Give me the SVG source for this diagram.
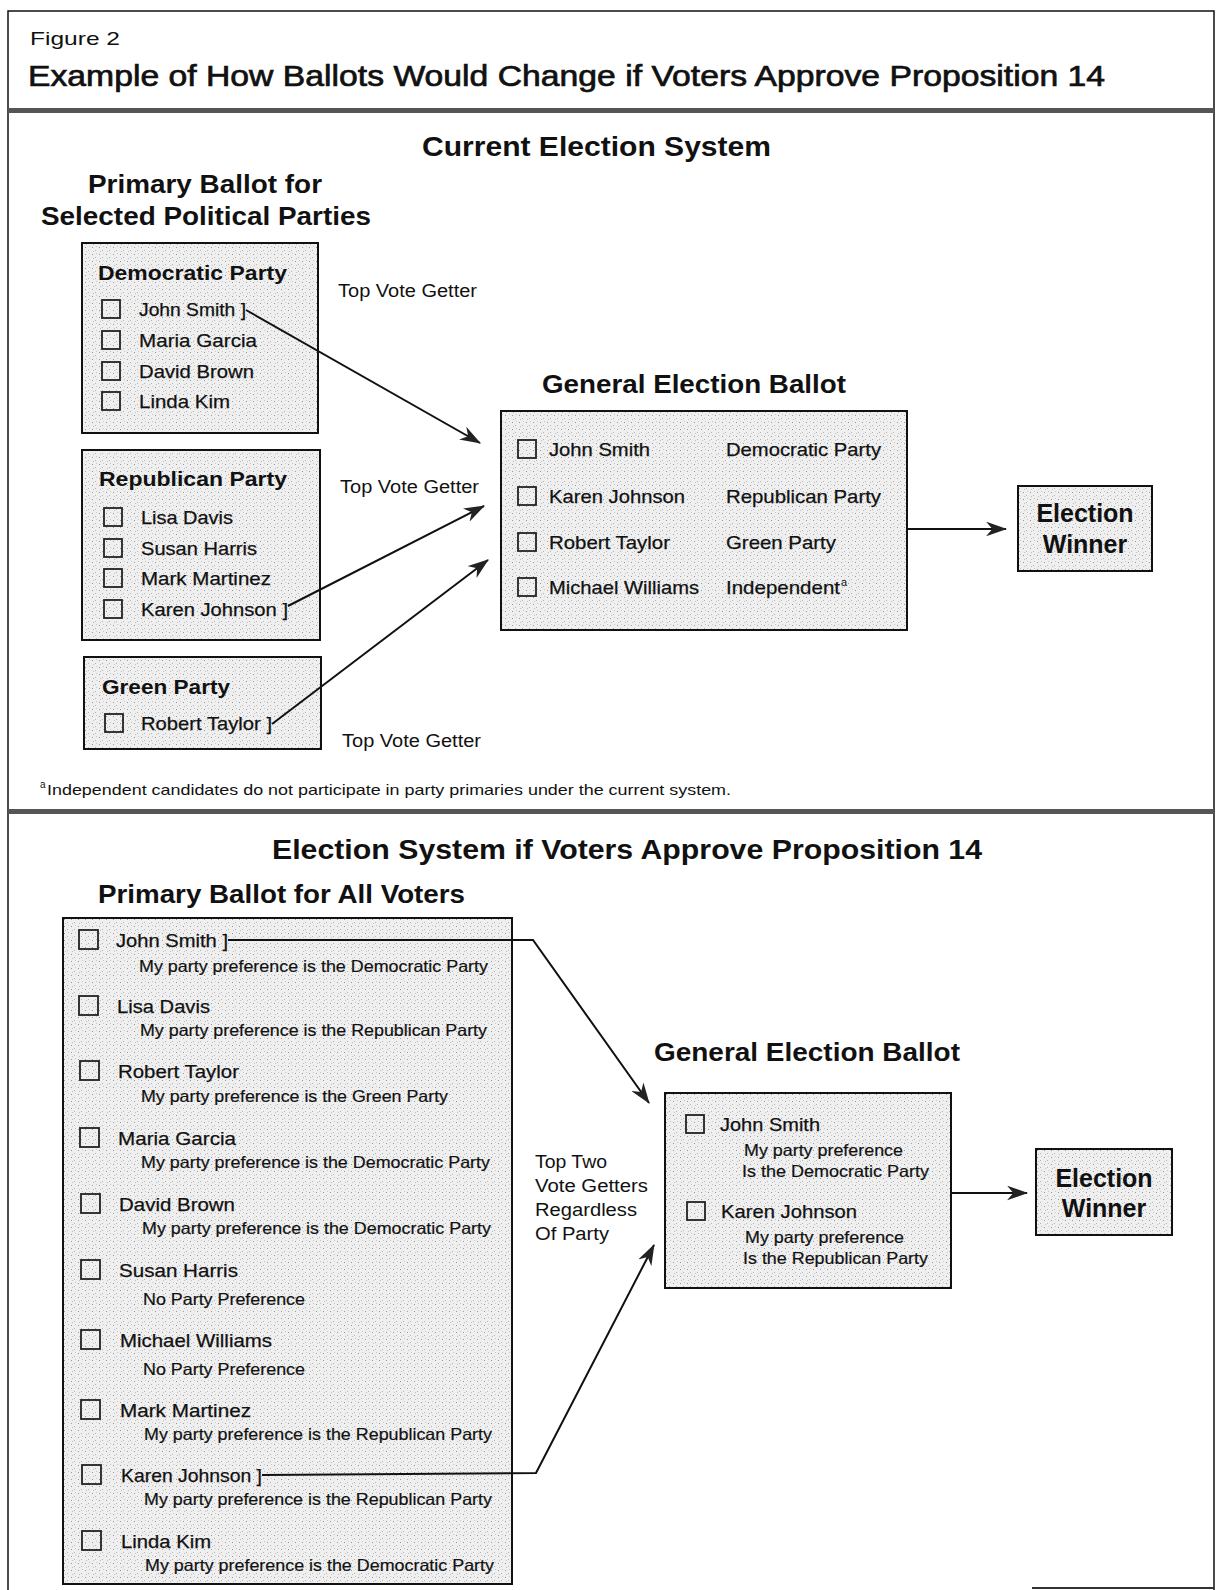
<svg xmlns="http://www.w3.org/2000/svg" width="1221" height="1590" viewBox="0 0 1221 1590">
<style>
text{font-family:"Liberation Sans",Arial,sans-serif;fill:#111}
.h{font-weight:bold;font-size:26px}
.h28{font-weight:bold;font-size:28px}
.pb{font-weight:bold;font-size:21px}
.nm{font-size:19px;stroke:#111;stroke-width:0.25}
.pf{font-size:16.5px;stroke:#111;stroke-width:0.2}
.lb{font-size:18px}
.ew{font-weight:bold;font-size:25px}
.box{fill:url(#stip);stroke:#111;stroke-width:2}
.cb{fill:none;stroke:#222;stroke-width:1.8}
.cn{fill:none;stroke:#111;stroke-width:2}
</style>
<defs>
<pattern id="stip" width="7" height="7" patternUnits="userSpaceOnUse">
<rect width="7" height="7" fill="#efefef"/>
<rect x="1" y="2" width="1" height="1" fill="#9a9a9a"/>
<rect x="4" y="5" width="1" height="1" fill="#b4b4b4"/>
<rect x="5" y="1" width="1" height="1" fill="#c8c8c8"/>
<rect x="2" y="6" width="1" height="1" fill="#c0c0c0"/>
</pattern>
<marker id="ah" viewBox="0 0 20 14" markerWidth="21" markerHeight="15" refX="19" refY="7" orient="auto" markerUnits="userSpaceOnUse">
<path d="M0,0 L20,7 L0,14 L6,7 Z" fill="#222"/>
</marker>
</defs>
<rect width="1221" height="1590" fill="#fff"/>

<g id="frame">
<path d="M8,1590 L8,11 L1214,11 L1214,1590" fill="none" stroke="#111" stroke-width="1.5"/>
<path d="M1032,1588 L1214,1588" stroke="#333" stroke-width="2"/>
<rect x="8" y="108" width="1206" height="5" fill="#555"/>
<rect x="8" y="809" width="1206" height="5" fill="#555"/>
</g>

<g id="header">
<text x="30" y="45" style="font-size:19px" textLength="90" lengthAdjust="spacingAndGlyphs">Figure 2</text>
<text x="28" y="86" style="font-size:29px;stroke:#111;stroke-width:0.7" textLength="1077" lengthAdjust="spacingAndGlyphs">Example of How Ballots Would Change if Voters Approve Proposition 14</text>
</g>

<g id="section1-headings">
<text class="h28" x="422" y="156" textLength="349" lengthAdjust="spacingAndGlyphs">Current Election System</text>
<text class="h" x="88" y="193" textLength="234" lengthAdjust="spacingAndGlyphs">Primary Ballot for</text>
<text class="h" x="41" y="225" textLength="330" lengthAdjust="spacingAndGlyphs">Selected Political Parties</text>
<text class="h" x="542" y="393" textLength="304" lengthAdjust="spacingAndGlyphs">General Election Ballot</text>
</g>

<g id="dem-primary">
<rect class="box" x="82" y="243" width="236" height="190"/>
<text class="pb" x="98" y="280" textLength="189" lengthAdjust="spacingAndGlyphs">Democratic Party</text>
<rect class="cb" x="102" y="300" width="18" height="18"/>
<text class="nm" x="139" y="316" textLength="107" lengthAdjust="spacingAndGlyphs">John Smith ]</text>
<rect class="cb" x="102" y="331" width="18" height="18"/>
<text class="nm" x="139" y="347" textLength="118" lengthAdjust="spacingAndGlyphs">Maria Garcia</text>
<rect class="cb" x="102" y="362" width="18" height="18"/>
<text class="nm" x="139" y="378" textLength="115" lengthAdjust="spacingAndGlyphs">David Brown</text>
<rect class="cb" x="102" y="392" width="18" height="18"/>
<text class="nm" x="139" y="408" textLength="91" lengthAdjust="spacingAndGlyphs">Linda Kim</text>
</g>

<g id="rep-primary">
<rect class="box" x="82" y="450" width="238" height="190"/>
<text class="pb" x="99" y="486" textLength="188" lengthAdjust="spacingAndGlyphs">Republican Party</text>
<rect class="cb" x="104" y="508" width="18" height="18"/>
<text class="nm" x="141" y="524" textLength="92" lengthAdjust="spacingAndGlyphs">Lisa Davis</text>
<rect class="cb" x="104" y="539" width="18" height="18"/>
<text class="nm" x="141" y="555" textLength="116" lengthAdjust="spacingAndGlyphs">Susan Harris</text>
<rect class="cb" x="104" y="569" width="18" height="18"/>
<text class="nm" x="141" y="585" textLength="130" lengthAdjust="spacingAndGlyphs">Mark Martinez</text>
<rect class="cb" x="104" y="600" width="18" height="18"/>
<text class="nm" x="141" y="616" textLength="147" lengthAdjust="spacingAndGlyphs">Karen Johnson ]</text>
</g>

<g id="green-primary">
<rect class="box" x="84" y="657" width="237" height="92"/>
<text class="pb" x="102" y="694" textLength="128" lengthAdjust="spacingAndGlyphs">Green Party</text>
<rect class="cb" x="105" y="714" width="18" height="18"/>
<text class="nm" x="141" y="730" textLength="131" lengthAdjust="spacingAndGlyphs">Robert Taylor ]</text>
</g>

<g id="labels1">
<text class="lb" x="338" y="297" textLength="139" lengthAdjust="spacingAndGlyphs">Top Vote Getter</text>
<text class="lb" x="340" y="493" textLength="139" lengthAdjust="spacingAndGlyphs">Top Vote Getter</text>
<text class="lb" x="342" y="747" textLength="139" lengthAdjust="spacingAndGlyphs">Top Vote Getter</text>
</g>

<g id="general-ballot-1">
<rect class="box" x="501" y="411" width="406" height="219"/>
<rect class="cb" x="518" y="440" width="18" height="18"/>
<text class="nm" x="549" y="456" textLength="101" lengthAdjust="spacingAndGlyphs">John Smith</text>
<text class="nm" x="726" y="456" textLength="155" lengthAdjust="spacingAndGlyphs">Democratic Party</text>
<rect class="cb" x="518" y="487" width="18" height="18"/>
<text class="nm" x="549" y="503" textLength="136" lengthAdjust="spacingAndGlyphs">Karen Johnson</text>
<text class="nm" x="726" y="503" textLength="155" lengthAdjust="spacingAndGlyphs">Republican Party</text>
<rect class="cb" x="518" y="533" width="18" height="18"/>
<text class="nm" x="549" y="549" textLength="121" lengthAdjust="spacingAndGlyphs">Robert Taylor</text>
<text class="nm" x="726" y="549" textLength="110" lengthAdjust="spacingAndGlyphs">Green Party</text>
<rect class="cb" x="518" y="578" width="18" height="18"/>
<text class="nm" x="549" y="594" textLength="150" lengthAdjust="spacingAndGlyphs">Michael Williams</text>
<text class="nm" x="726" y="594" textLength="114" lengthAdjust="spacingAndGlyphs">Independent</text>
<text x="841" y="586" style="font-size:11px">a</text>
</g>

<g id="winner-1">
<rect class="box" x="1018" y="486" width="134" height="85"/>
<text class="ew" x="1085" y="522" text-anchor="middle">Election</text>
<text class="ew" x="1085" y="553" text-anchor="middle">Winner</text>
</g>

<g id="footnote">
<text x="40" y="788" style="font-size:10px">a</text>
<text x="47" y="795" style="font-size:14.5px" textLength="684" lengthAdjust="spacingAndGlyphs">Independent candidates do not participate in party primaries under the current system.</text>
</g>

<g id="section2-headings">
<text class="h28" x="272" y="859" textLength="710" lengthAdjust="spacingAndGlyphs">Election System if Voters Approve Proposition 14</text>
<text class="h" x="98" y="903" textLength="367" lengthAdjust="spacingAndGlyphs">Primary Ballot for All Voters</text>
<text class="h" x="654" y="1061" textLength="306" lengthAdjust="spacingAndGlyphs">General Election Ballot</text>
</g>

<g id="primary-all">
<rect class="box" x="63" y="918" width="449" height="666"/>
<rect class="cb" x="79" y="930" width="19" height="19"/>
<text class="nm" x="116" y="947" textLength="112" lengthAdjust="spacingAndGlyphs">John Smith ]</text>
<text class="pf" x="139" y="972" textLength="349" lengthAdjust="spacingAndGlyphs">My party preference is the Democratic Party</text>
<rect class="cb" x="79" y="996" width="19" height="19"/>
<text class="nm" x="117" y="1013" textLength="93" lengthAdjust="spacingAndGlyphs">Lisa Davis</text>
<text class="pf" x="140" y="1036" textLength="347" lengthAdjust="spacingAndGlyphs">My party preference is the Republican Party</text>
<rect class="cb" x="80" y="1061" width="19" height="19"/>
<text class="nm" x="118" y="1078" textLength="121" lengthAdjust="spacingAndGlyphs">Robert Taylor</text>
<text class="pf" x="141" y="1102" textLength="307" lengthAdjust="spacingAndGlyphs">My party preference is the Green Party</text>
<rect class="cb" x="80" y="1128" width="19" height="19"/>
<text class="nm" x="118" y="1145" textLength="118" lengthAdjust="spacingAndGlyphs">Maria Garcia</text>
<text class="pf" x="141" y="1168" textLength="349" lengthAdjust="spacingAndGlyphs">My party preference is the Democratic Party</text>
<rect class="cb" x="81" y="1194" width="19" height="19"/>
<text class="nm" x="119" y="1211" textLength="116" lengthAdjust="spacingAndGlyphs">David Brown</text>
<text class="pf" x="142" y="1234" textLength="349" lengthAdjust="spacingAndGlyphs">My party preference is the Democratic Party</text>
<rect class="cb" x="81" y="1260" width="19" height="19"/>
<text class="nm" x="119" y="1277" textLength="119" lengthAdjust="spacingAndGlyphs">Susan Harris</text>
<text class="pf" x="143" y="1305" textLength="162" lengthAdjust="spacingAndGlyphs">No Party Preference</text>
<rect class="cb" x="81" y="1330" width="19" height="19"/>
<text class="nm" x="120" y="1347" textLength="152" lengthAdjust="spacingAndGlyphs">Michael Williams</text>
<text class="pf" x="143" y="1375" textLength="162" lengthAdjust="spacingAndGlyphs">No Party Preference</text>
<rect class="cb" x="81" y="1400" width="19" height="19"/>
<text class="nm" x="120" y="1417" textLength="131" lengthAdjust="spacingAndGlyphs">Mark Martinez</text>
<text class="pf" x="144" y="1440" textLength="348" lengthAdjust="spacingAndGlyphs">My party preference is the Republican Party</text>
<rect class="cb" x="82" y="1465" width="19" height="19"/>
<text class="nm" x="121" y="1482" textLength="141" lengthAdjust="spacingAndGlyphs">Karen Johnson ]</text>
<text class="pf" x="144" y="1505" textLength="348" lengthAdjust="spacingAndGlyphs">My party preference is the Republican Party</text>
<rect class="cb" x="82" y="1531" width="19" height="19"/>
<text class="nm" x="121" y="1548" textLength="90" lengthAdjust="spacingAndGlyphs">Linda Kim</text>
<text class="pf" x="145" y="1571" textLength="349" lengthAdjust="spacingAndGlyphs">My party preference is the Democratic Party</text>
</g>

<g id="labels2">
<text class="lb" x="535" y="1168" textLength="72" lengthAdjust="spacingAndGlyphs">Top Two</text>
<text class="lb" x="535" y="1192" textLength="113" lengthAdjust="spacingAndGlyphs">Vote Getters</text>
<text class="lb" x="535" y="1216" textLength="102" lengthAdjust="spacingAndGlyphs">Regardless</text>
<text class="lb" x="535" y="1240" textLength="74" lengthAdjust="spacingAndGlyphs">Of Party</text>
</g>

<g id="general-ballot-2">
<rect class="box" x="665" y="1093" width="286" height="195"/>
<rect class="cb" x="686" y="1115" width="18" height="18"/>
<text class="nm" x="720" y="1131" textLength="100" lengthAdjust="spacingAndGlyphs">John Smith</text>
<text class="pf" x="744" y="1156" textLength="159" lengthAdjust="spacingAndGlyphs">My party preference</text>
<text class="pf" x="742" y="1177" textLength="187" lengthAdjust="spacingAndGlyphs">Is the Democratic Party</text>
<rect class="cb" x="687" y="1202" width="18" height="18"/>
<text class="nm" x="721" y="1218" textLength="136" lengthAdjust="spacingAndGlyphs">Karen Johnson</text>
<text class="pf" x="745" y="1243" textLength="159" lengthAdjust="spacingAndGlyphs">My party preference</text>
<text class="pf" x="743" y="1264" textLength="185" lengthAdjust="spacingAndGlyphs">Is the Republican Party</text>
</g>

<g id="winner-2">
<rect class="box" x="1036" y="1149" width="136" height="86"/>
<text class="ew" x="1104" y="1187" text-anchor="middle">Election</text>
<text class="ew" x="1104" y="1217" text-anchor="middle">Winner</text>
</g>

<g id="connectors">
<line class="cn" x1="246" y1="310" x2="480" y2="443" marker-end="url(#ah)"/>
<line class="cn" x1="288" y1="606" x2="484" y2="506" marker-end="url(#ah)"/>
<line class="cn" x1="272" y1="724" x2="488" y2="560" marker-end="url(#ah)"/>
<line class="cn" x1="907" y1="529" x2="1006" y2="529" stroke-width="2.5" marker-end="url(#ah)"/>
<polyline class="cn" points="228,940 533,940 649,1103" marker-end="url(#ah)"/>
<polyline class="cn" points="262,1475 536,1473 654,1245" marker-end="url(#ah)"/>
<line class="cn" x1="951" y1="1193" x2="1027" y2="1193" stroke-width="2.5" marker-end="url(#ah)"/>
</g>
</svg>
